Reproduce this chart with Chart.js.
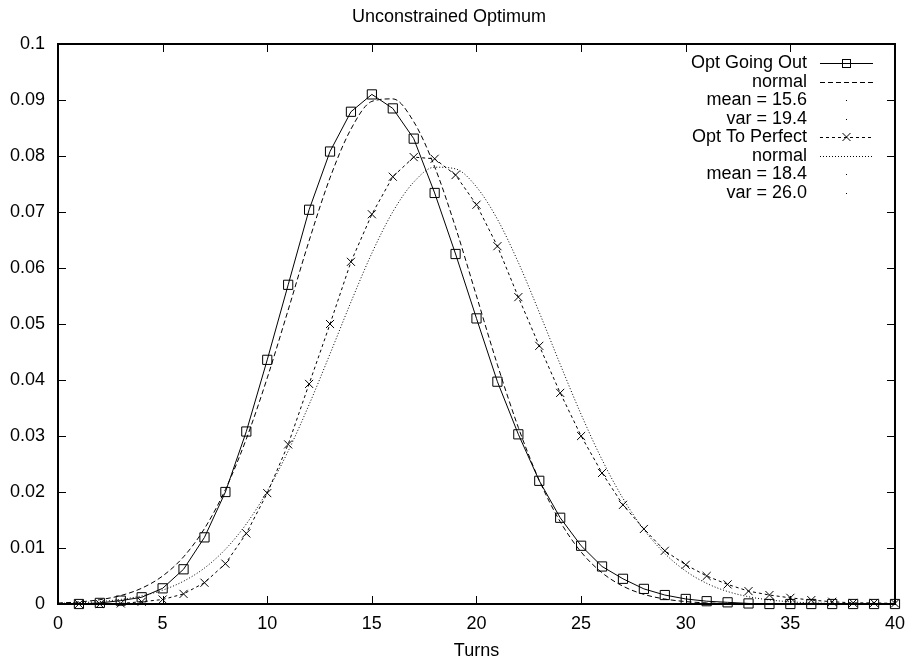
<!DOCTYPE html>
<html>
<head>
<meta charset="utf-8">
<script src="https://cdn.jsdelivr.net/npm/chart.js@4"></script>
<style>
    html, body { margin: 0; padding: 0; background: #fff; }
</style>
</head>
<body>
<canvas id="grafico" width="914" height="663"></canvas>
<script>
// Turnos (eixo x) e valores
const turnos = [1, 2, 3, 4, 5, 6, 7, 8, 9, 10, 11, 12, 13, 14, 15, 16, 17, 18, 19, 20,
    21, 22, 23, 24, 25, 26, 27, 28, 29, 30, 31, 32, 33, 34, 35, 36, 37, 38, 39, 40];
const optGoingOut = [0.0000, 0.0002, 0.0006, 0.0012, 0.0028, 0.0062, 0.0119, 0.0200, 0.0308, 0.0436,
    0.0570, 0.0704, 0.0808, 0.0879, 0.0910, 0.0885, 0.0831, 0.0734, 0.0625, 0.0510,
    0.0397, 0.0303, 0.0220, 0.0154, 0.0104, 0.0067, 0.0045, 0.0027, 0.0016, 0.0009,
    0.0005, 0.0003, 0.0001, 0, 0, 0, 0, 0, 0, 0];
const optToPerfect = [0, 0, 0.0001, 0.0004, 0.0008, 0.0018, 0.0038, 0.0072, 0.0126, 0.0198,
    0.0285, 0.0393, 0.0500, 0.0611, 0.0696, 0.0763, 0.0798, 0.0795, 0.0766, 0.0713,
    0.0639, 0.0548, 0.0461, 0.0377, 0.0300, 0.0234, 0.0177, 0.0134, 0.0095, 0.0070,
    0.0050, 0.0035, 0.0023, 0.0016, 0.0011, 0.0007, 0.0004, 0.0002, 0.0002, 0.0001];

// Curvas "normal", de 0 a 40
const xNormal = [0, 1, 2, 3, 4, 5, 6, 7, 8, 9, 10, 11, 12, 13, 14, 15, 16, 17, 18, 19, 20,
    21, 22, 23, 24, 25, 26, 27, 28, 29, 30, 31, 32, 33, 34, 35, 36, 37, 38, 39, 40];
const normalGoingOut = [0.00017, 0.00037, 0.00077, 0.00151, 0.00282, 0.0050, 0.00842, 0.01347, 0.02044, 0.02948,
    0.04037, 0.0525, 0.06486, 0.0761, 0.0848, 0.08975, 0.0902, 0.08613, 0.07808, 0.06724,
    0.055, 0.04272, 0.03152, 0.02208, 0.0147, 0.00929, 0.00558, 0.00318, 0.00172, 0.00089,
    0.00043, 0.0002, 0.00009, 0.00004, 0.00001, 0, 0, 0, 0, 0, 0];
const normalToPerfect = [0.00012, 0.00023, 0.00044, 0.00082, 0.00145, 0.00248, 0.00407, 0.00642, 0.00977, 0.0143,
    0.02015, 0.0273, 0.0356, 0.04466, 0.05392, 0.06265, 0.07003, 0.07534, 0.078, 0.0777,
    0.07448, 0.0687, 0.06098, 0.05208, 0.0428, 0.03386, 0.02577, 0.01886, 0.01329, 0.00901,
    0.00588, 0.00369, 0.00223, 0.0013, 0.00073, 0.00039, 0.0002, 0.0001, 0.00005, 0.00002, 0.00001];

// Marcas dos eixos
const xTicks = [0, 5, 10, 15, 20, 25, 30, 35, 40];
const yTicks = [0, 0.01, 0.02, 0.03, 0.04, 0.05, 0.06, 0.07, 0.08, 0.09, 0.1];

// Linhas da legenda (estilo gnuplot)
const legendaLinhas = [
    { texto: 'Opt Going Out', serie: 0 },
    { texto: 'normal', serie: 1 },
    { texto: 'mean = 15.6', ponto: true },
    { texto: 'var = 19.4', ponto: true },
    { texto: 'Opt To Perfect', serie: 2 },
    { texto: 'normal', serie: 3 },
    { texto: 'mean = 18.4', ponto: true },
    { texto: 'var = 26.0', ponto: true }
];

const fonte = '"Liberation Sans", Arial, Helvetica, sans-serif';
Chart.defaults.font.family = fonte;
Chart.defaults.font.size = 18;
Chart.defaults.color = '#000';

function pares(xs, ys) {
    return xs.map((x, i) => ({ x: x, y: ys[i] }));
}

// Fundo branco
const fundoPlugin = {
    id: 'fundo',
    beforeDraw(chart) {
        const ctx = chart.ctx;
        ctx.save();
        ctx.fillStyle = '#fff';
        ctx.fillRect(0, 0, chart.width, chart.height);
        ctx.restore();
    }
};

// Moldura e marcas para dentro, nos quatro lados
const molduraPlugin = {
    id: 'moldura',
    beforeDatasetsDraw(chart) {
        const ctx = chart.ctx;
        const a = chart.chartArea;
        const sx = chart.scales.x, sy = chart.scales.y;
        const tam = 8;
        ctx.save();
        ctx.strokeStyle = '#000';
        ctx.lineWidth = 1;
        ctx.beginPath();
        xTicks.forEach((v) => {
            const px = Math.round(sx.getPixelForValue(v)) + 0.5;
            ctx.moveTo(px, a.bottom); ctx.lineTo(px, a.bottom - tam);
            ctx.moveTo(px, a.top); ctx.lineTo(px, a.top + tam);
        });
        yTicks.forEach((v) => {
            const py = Math.round(sy.getPixelForValue(v)) + 0.5;
            ctx.moveTo(a.left, py); ctx.lineTo(a.left + tam, py);
            ctx.moveTo(a.right, py); ctx.lineTo(a.right - tam, py);
        });
        ctx.stroke();
        ctx.lineWidth = 2;
        ctx.strokeRect(a.left, a.top, a.right - a.left, a.bottom - a.top);
        ctx.restore();
    }
};

// Legenda desenhada dentro da área, texto à direita e amostra ao lado
const legendaPlugin = {
    id: 'legendaGnuplot',
    afterDraw(chart) {
        const ctx = chart.ctx;
        const a = chart.chartArea;
        const xTexto = a.right - 88;
        const x0 = a.right - 75, x1 = a.right - 22, xm = (x0 + x1) / 2;
        ctx.save();
        ctx.font = '18px ' + fonte;
        ctx.textAlign = 'right';
        ctx.textBaseline = 'middle';
        ctx.fillStyle = '#000';
        ctx.strokeStyle = '#000';
        legendaLinhas.forEach((l, i) => {
            const y = Math.round(a.top + 19 + i * 18.5);
            ctx.fillText(l.texto, xTexto, y);
            if (l.ponto) {
                ctx.fillRect(Math.round(xm), y, 1, 1);
                return;
            }
            const ds = chart.data.datasets[l.serie];
            ctx.lineWidth = 1;
            ctx.setLineDash(ds.borderDash || []);
            ctx.beginPath();
            ctx.moveTo(x0, y + 0.5);
            ctx.lineTo(x1, y + 0.5);
            ctx.stroke();
            ctx.setLineDash([]);
            if (ds.pointStyle === 'rect') {
                ctx.strokeRect(Math.round(xm) - 4 + 0.5, y - 4 + 0.5, 8, 8);
            } else if (ds.pointStyle === 'crossRot') {
                ctx.beginPath();
                ctx.moveTo(xm - 4, y - 4); ctx.lineTo(xm + 4, y + 4);
                ctx.moveTo(xm - 4, y + 4); ctx.lineTo(xm + 4, y - 4);
                ctx.stroke();
            }
        });
        ctx.restore();
    }
};

const ctx = document.getElementById('grafico').getContext('2d');
new Chart(ctx, {
    type: 'line',
    data: {
        datasets: [
            {
                label: 'Opt Going Out',
                data: pares(turnos, optGoingOut),
                borderColor: '#000',
                borderWidth: 1,
                pointStyle: 'rect',
                pointRadius: 6.5,
                pointBorderWidth: 1,
                pointBorderColor: '#000',
                pointBackgroundColor: 'rgba(0,0,0,0)',
                tension: 0,
                clip: false
            },
            {
                label: 'normal',
                data: pares(xNormal, normalGoingOut),
                borderColor: '#000',
                borderWidth: 1,
                borderDash: [5, 3],
                pointRadius: 0,
                cubicInterpolationMode: 'monotone',
                clip: false
            },
            {
                label: 'Opt To Perfect',
                data: pares(turnos, optToPerfect),
                borderColor: '#000',
                borderWidth: 1,
                borderDash: [3, 3],
                pointStyle: 'crossRot',
                pointRadius: 5.7,
                pointBorderWidth: 1,
                pointBorderColor: '#000',
                pointBackgroundColor: 'rgba(0,0,0,0)',
                tension: 0,
                clip: false
            },
            {
                label: 'normal',
                data: pares(xNormal, normalToPerfect),
                borderColor: '#000',
                borderWidth: 1,
                borderDash: [1, 2],
                pointRadius: 0,
                cubicInterpolationMode: 'monotone',
                clip: false
            }
        ]
    },
    options: {
        responsive: false,
        animation: false,
        layout: { padding: { left: 0, right: 16, top: 0, bottom: 0 } },
        plugins: {
            legend: { display: false },
            tooltip: { enabled: false },
            title: {
                display: true,
                text: 'Unconstrained Optimum',
                font: { size: 18, weight: 'normal' },
                color: '#000',
                padding: { top: 6, bottom: 16.4 }
            }
        },
        scales: {
            x: {
                type: 'linear',
                min: 0,
                max: 40,
                afterBuildTicks: (s) => { s.ticks = xTicks.map((v) => ({ value: v })); },
                afterFit: (s) => { s.height = 59; },
                grid: { display: false, drawTicks: false },
                border: { display: false },
                ticks: { padding: 9, autoSkip: false, maxRotation: 0 },
                title: { display: true, text: 'Turns', padding: { top: 0, bottom: 1 } }
            },
            y: {
                type: 'linear',
                min: 0,
                max: 0.1,
                afterBuildTicks: (s) => { s.ticks = yTicks.map((v) => ({ value: v })); },
                afterFit: (s) => { s.width = 58; },
                grid: { display: false, drawTicks: false },
                border: { display: false },
                ticks: {
                    padding: 13,
                    autoSkip: false,
                    callback: (v) => String(+v.toFixed(4))
                }
            }
        }
    },
    plugins: [fundoPlugin, molduraPlugin, legendaPlugin]
});
</script>
</body>
</html>
